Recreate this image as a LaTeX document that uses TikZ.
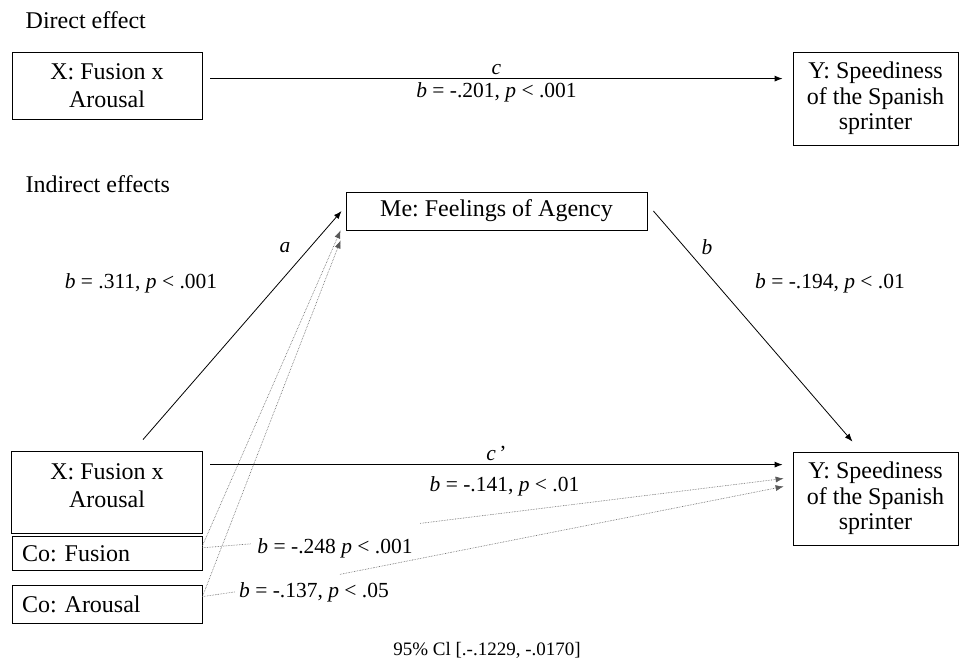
\documentclass[tikz,border=0pt]{standalone}
\usepackage{fontspec}
\setmainfont{Liberation Serif}
\usetikzlibrary{positioning,arrows.meta}
\def\boxfont{\fontsize{24}{27.5}\selectfont}
\def\lblfont{\fontsize{21.5}{24}\selectfont}
\tikzstyle{var}=[draw,minimum width=190pt,align=center,font=\boxfont,inner sep=0pt]
\tikzstyle{cov}=[var,text width=170pt,align=left,minimum height=34pt]
\tikzstyle{outc}=[var,minimum width=165pt,minimum height=93pt,font=\fontsize{24}{25.5}\selectfont]
\tikzstyle{side}=[densely dotted,gray!70!black,line width=0.6pt]
\newcommand{\newVar}[4]{\node[var,#3](#1)[#4]{#2};}
\newcommand{\newEffect}[4]{\draw[->,#4] (#1) -- #3 (#2);}
\frenchspacing

\begin{document}
\begin{tikzpicture}[x=1pt,y=-1pt,
      >={Latex[length=8pt,width=6pt]},line width=0.8pt,
      font=\lblfont
      ]
      \useasboundingbox (0,0) rectangle (960,660);
      % direct effect
      \node[anchor=base west,font=\boxfont] (direct) at (22,29) {Direct effect};
      \newVar{x1}{X: Fusion x\\Arousal}{minimum height=67pt}{at={(107,85.5)}}
      \newVar{y1}{Y: Speediness\\of the Spanish\\sprinter}{outc}{at={(875.5,98.5)}}
      \newEffect{[xshift=8pt,yshift=-27pt]x1.north east}{[xshift=-10pt,yshift=-27pt]y1.north west}{node[above]{\textit{c}} node[below]{\textit{b} = -.201, \textit{p} < .001}}{}
      % indirect effects
      \node[anchor=base west,font=\boxfont] (indirect) at (22,193) {Indirect effects};
      \newVar{me}{Me: Feelings of Agency}{minimum width=301pt,minimum height=38pt}{at={(496.5,211)}}
      \newVar{x2}{X: Fusion x\\Arousal}{draw=none,minimum height=67pt}{at={(107,485.5)}}
      \draw (x2.north west) rectangle ([yshift=-14pt]x2.south east);
      \newVar{cof}{Co: Fusion}{cov}{below=17pt of x2}
      \newVar{coa}{Co: Arousal}{cov,minimum height=38pt}{below=14pt of cof}
      \newVar{y2}{Y: Speediness\\of the Spanish\\sprinter}{outc}{at={(875.5,498.5)}}
      \newEffect{[xshift=36pt,yshift=12pt]x2.north}{[xshift=-4pt]me.west}{}{}
      \newEffect{[xshift=6pt]me.east}{[xshift=-23pt,yshift=10pt]y2.north}{}{}
      \node (la) at (285,248) {\textit{a}};
      \node[anchor=base] (ba) at (141,288) {\textit{b} = .311, \textit{p} < .001};
      \node (lb) at (707,247) {\textit{b}};
      \node[anchor=base] (bb) at (830,288) {\textit{b} = -.194, \textit{p} < .01};
      \newEffect{[xshift=8pt,yshift=-13pt]x2.north east}{[xshift=-10pt,yshift=-13pt]y2.north west}{node[above]{\textit{c}\,'} node[below=8pt,xshift=8pt]{\textit{b} = -.141, \textit{p} < .01}}{}
      % covariates
      \newEffect{[yshift=8pt]cof.east}{[xshift=-5pt]me.south west}{}{side}
      \newEffect{[yshift=8pt]coa.east}{[xshift=-5pt,yshift=-10pt]me.south west}{}{side}
      \node[anchor=base] (bfus) at (335,553) {\textit{b} = -.248 \textit{p} < .001};
      \node[anchor=base] (baro) at (314,597) {\textit{b} = -.137, \textit{p} < .05};
      \coordinate (fusr) at ([xshift=4pt,yshift=11pt]bfus.north east);
      \coordinate (aror) at ([xshift=26pt,yshift=4pt]baro.north);
      \draw[side] ([yshift=6pt]cof.east) -- ([xshift=-3pt,yshift=4pt]bfus.west);
      \draw[side] ([yshift=8pt]coa.east) -- (baro.west);
      \newEffect{fusr}{[xshift=-9pt,yshift=20pt]y2.west}{}{side}
      \newEffect{aror}{[xshift=-9pt,yshift=12pt]y2.west}{}{side}
      \node[anchor=base,font=\fontsize{19}{22}\selectfont] (ci) at (487,655) {95\% Cl [.-.1229, -.0170]};
    \end{tikzpicture}
\end{document}
